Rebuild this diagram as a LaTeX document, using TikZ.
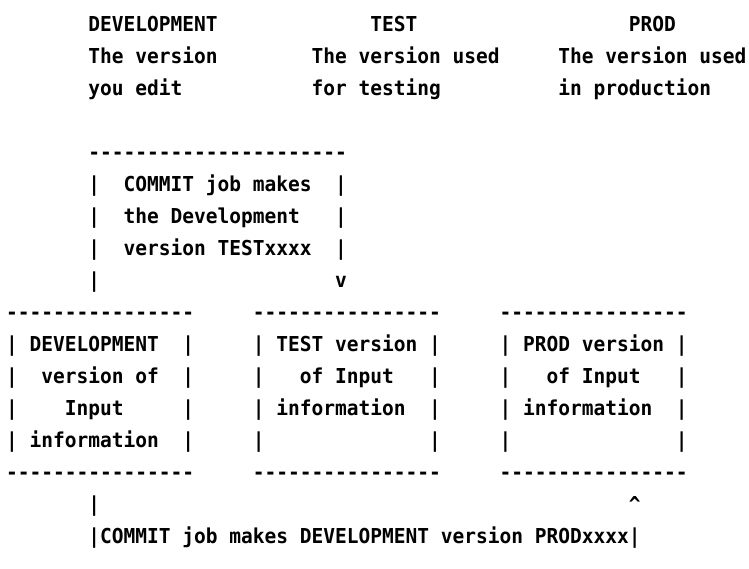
\documentclass[tikz,border=0pt]{standalone}
\usepackage{fontspec}
\setmonofont{DejaVu Sans Mono}[FakeStretch=0.95]
\tikzset{
  ascii/.style={anchor=base west, inner sep=0pt, outer sep=0pt, text=black,
    font=\ttfamily\bfseries\fontsize{20.55pt}{32pt}\selectfont}
}
% one character cell is 11.75pt wide, one text line is 32pt high
\newcommand\putcell[3]{\node[ascii] (r#1c#2) at ({6+#2*11.75},{-(31.7+#1*32)}) {#3};}
\begin{document}
\begin{tikzpicture}[x=1pt,y=1pt]
  \fill[white] (0,0) rectangle (749,-569);
  \useasboundingbox (0,0) rectangle (749,-569);

  % column headings
  \putcell{0}{7}{DEVELOPMENT}
  \putcell{0}{31}{TEST}
  \putcell{0}{53}{PROD}
  \putcell{1}{7}{The version}
  \putcell{1}{26}{The version used}
  \putcell{1}{47}{The version used}
  \putcell{2}{7}{you edit}
  \putcell{2}{26}{for testing}
  \putcell{2}{47}{in production}

  % COMMIT to TEST
  \putcell{4}{7}{----------------------}
  \putcell{5}{7}{|}
  \putcell{5}{10}{COMMIT job makes}
  \putcell{5}{28}{|}
  \putcell{6}{7}{|}
  \putcell{6}{10}{the Development}
  \putcell{6}{28}{|}
  \putcell{7}{7}{|}
  \putcell{7}{10}{version TESTxxxx}
  \putcell{7}{28}{|}
  \putcell{8}{7}{|}
  \putcell{8}{28}{v}

  % the three boxes
  \foreach \c in {0,21,42} {
    \putcell{9}{\c}{----------------}
    \putcell{14}{\c}{----------------}
  }
  \foreach \r in {10,11,12,13} {
    \foreach \c in {0,15,21,36,42,57} {
      \putcell{\r}{\c}{|}
    }
  }
  \putcell{10}{2}{DEVELOPMENT}
  \putcell{11}{3}{version of}
  \putcell{12}{5}{Input}
  \putcell{13}{2}{information}
  \putcell{10}{23}{TEST version}
  \putcell{11}{25}{of Input}
  \putcell{12}{23}{information}
  \putcell{10}{44}{PROD version}
  \putcell{11}{46}{of Input}
  \putcell{12}{44}{information}

  % COMMIT to PROD
  \putcell{15}{7}{|}
  \putcell{15}{53}{\textasciicircum}
  \putcell{16}{7}{|COMMIT job makes DEVELOPMENT version PRODxxxx|}
\end{tikzpicture}
\end{document}
